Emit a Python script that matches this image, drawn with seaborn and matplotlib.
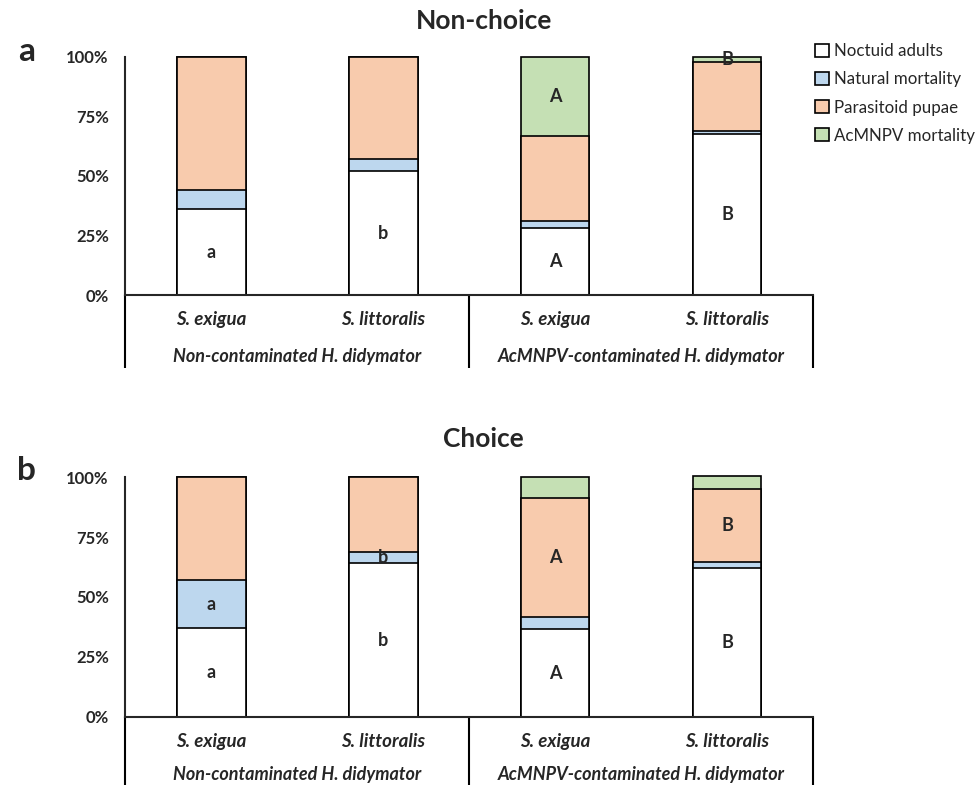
import numpy as np
import pandas as pd
import seaborn as sns
import matplotlib.pyplot as plt
from matplotlib.patches import Patch
import matplotlib.transforms as mtransforms

# categories
species = ["S. exigua", "S. littoralis", "S. exigua ", "S. littoralis "]
groups = ["Non-contaminated H. didymator", "AcMNPV-contaminated H. didymator"]
outcomes = ["Noctuid adults", "Natural mortality", "Parasitoid pupae", "AcMNPV mortality"]
colors = ["#FFFFFF", "#BDD7EE", "#F8CBAD", "#C5E0B4"]

# non-choice (%)
nc_noctuid = [36, 52, 28, 67.5]
nc_natural = [8, 5, 3, 1.5]
nc_parasitoid = [56, 43, 36, 29]
nc_acmnpv = [0, 0, 33, 2]
nc_letters = [["a", "b", "A", "B"], ["", "", "", ""], ["", "", "", ""], ["", "", "A", "B"]]

# choice (%)
c_noctuid = [37, 64, 36.5, 62]
c_natural = [20, 5, 5, 2.5]
c_parasitoid = [43, 31, 50, 30.5]
c_acmnpv = [0, 0, 8.5, 5.5]
c_letters = [["a", "b", "A", "B"], ["a", "b", "", ""], ["", "", "A", "B"], ["", "", "", ""]]

sns.set_style("white")
plt.rcParams['font.family'] = ['Lato', 'DejaVu Sans']


def draw_panel(ax, layers, letters, group_y=-0.26):
    vals = np.array(layers, dtype=float)
    cum = np.cumsum(vals, axis=0)
    # draw from the top layer down so lower segments cover upper ones
    for i in range(len(outcomes) - 1, -1, -1):
        df = pd.DataFrame({"species": species, "value": cum[i]})
        sns.barplot(data=df, x="species", y="value", color=colors[i],
                    saturation=1, edgecolor="black", linewidth=1.2,
                    width=0.4, ax=ax)
    for p in ax.patches:
        p.set_clip_on(False)
    # significance letters at segment centres
    for i in range(len(outcomes)):
        lower = cum[i] - vals[i]
        for j in range(len(species)):
            if letters[i][j]:
                ax.text(j, lower[j] + vals[i][j] / 2, letters[i][j], ha="center",
                        va="center", fontsize=13, fontweight="bold")

    ax.set_xlim(-0.5, 3.5)
    ax.set_ylim(0, 100)
    ax.set_yticks([0, 25, 50, 75, 100])
    ax.set_yticklabels(["0%", "25%", "50%", "75%", "100%"], fontsize=12, fontweight="bold")
    ax.set_xlabel("")
    ax.set_ylabel("")
    ax.tick_params(axis="both", length=0)
    ax.tick_params(axis="y", pad=12)
    ax.set_xticklabels([])
    for s in ["top", "right"]:
        ax.spines[s].set_visible(False)
    ax.spines["left"].set_linewidth(1.5)
    ax.spines["bottom"].set_linewidth(1.5)

    # category/group frame below the axis
    trans = mtransforms.blended_transform_factory(ax.transData, ax.transAxes)
    for xv in [-0.5, 1.5, 3.5]:
        ax.plot([xv, xv], [0, -0.305], transform=trans, color="black", lw=1.5,
                clip_on=False, solid_capstyle="butt")
    for j, name in enumerate(species):
        ax.text(j, -0.105, name.strip(), transform=trans, ha="center", va="center",
                fontsize=13.5, fontweight="bold", style="italic")
    for g, name in enumerate(groups):
        ax.text(0.5 + 2 * g, group_y, name, transform=trans, ha="center", va="center",
                fontsize=13, fontweight="bold", style="italic")


fig = plt.figure(figsize=(9.8, 7.85), dpi=100)
ax1 = fig.add_axes([0.128, 0.6242, 0.7015, 0.3032])
ax2 = fig.add_axes([0.128, 0.0870, 0.7015, 0.3050])

draw_panel(ax1, [nc_noctuid, nc_natural, nc_parasitoid, nc_acmnpv], nc_letters)
draw_panel(ax2, [c_noctuid, c_natural, c_parasitoid, c_acmnpv], c_letters, group_y=-0.24)

fig.text(0.494, 0.973, "Non-choice", ha="center", va="center", fontsize=19, fontweight="bold")
fig.text(0.493, 0.441, "Choice", ha="center", va="center", fontsize=19, fontweight="bold")
fig.text(0.027, 0.934, "a", ha="center", va="center", fontsize=24, fontweight="bold")
fig.text(0.027, 0.401, "b", ha="center", va="center", fontsize=24, fontweight="bold")

handles = [Patch(facecolor=c, edgecolor="black", linewidth=1.2) for c in colors]
fig.legend(handles, outcomes, loc="upper left", bbox_to_anchor=(0.832, 0.945),
           frameon=False, fontsize=12.2, handlelength=0.8, handleheight=0.8,
           handletextpad=0.3, labelspacing=0.72, borderaxespad=0, borderpad=0)

fig.savefig("out.png", dpi=100)
